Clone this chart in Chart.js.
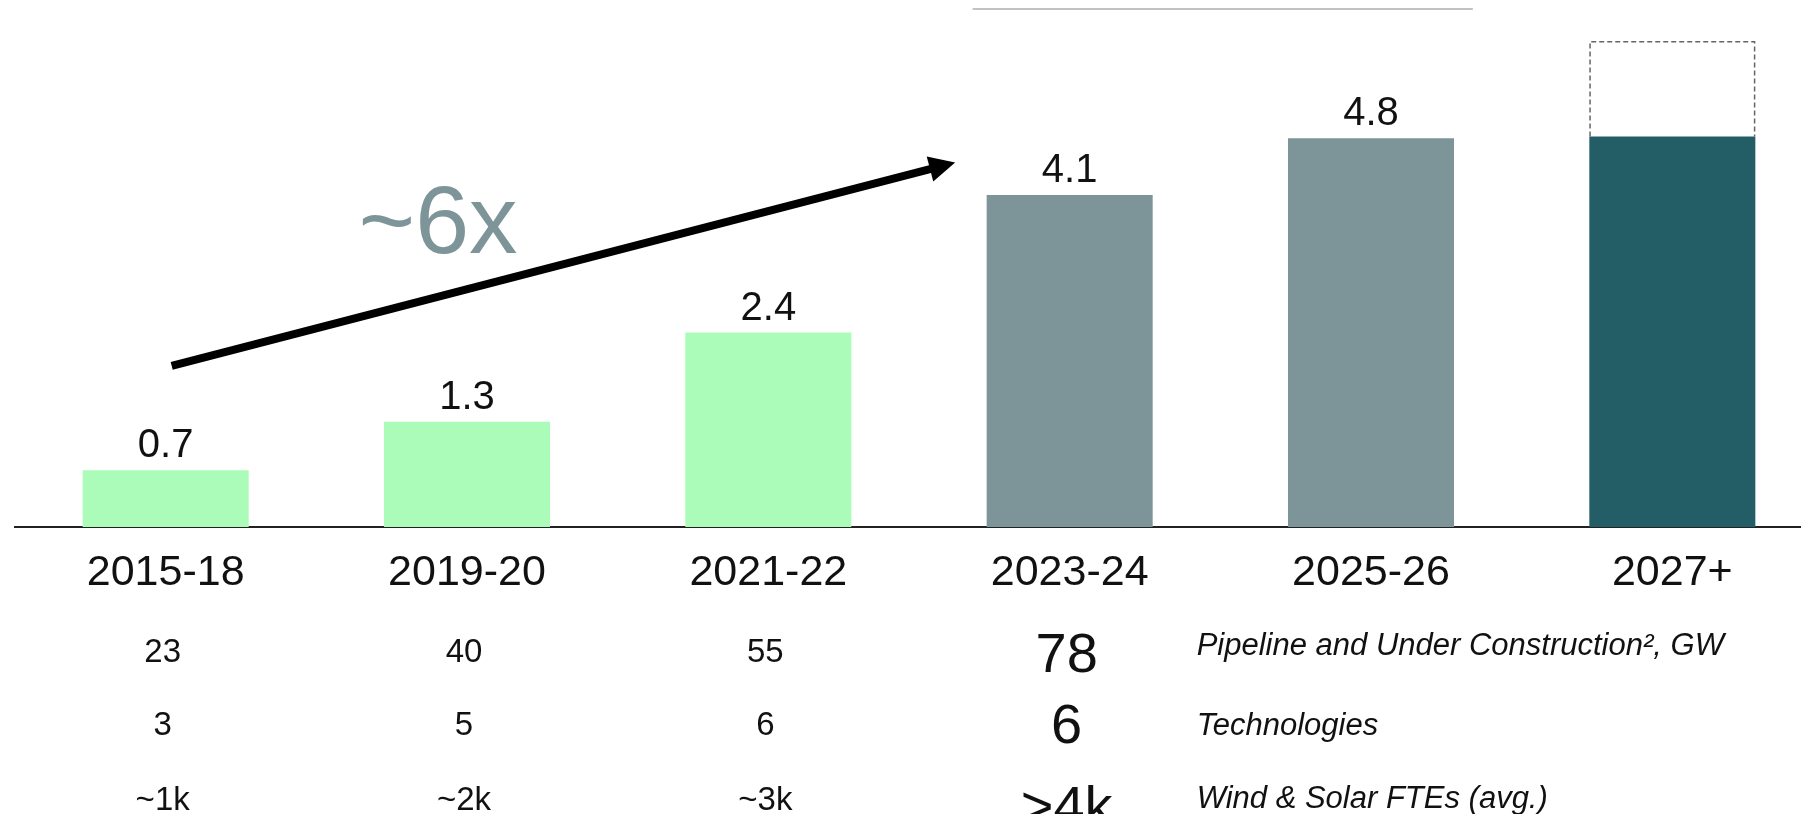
<!DOCTYPE html>
<html>
<head>
<meta charset="utf-8">
<script src="https://cdn.jsdelivr.net/npm/chart.js@4.4.1/dist/chart.umd.min.js"></script>
<style>
  html, body { margin: 0; padding: 0; background: #ffffff; overflow: hidden; }
  #wrap { width: 1830px; height: 814px; }
</style>
</head>
<body>
<div id="wrap"><canvas id="chart" width="1830" height="814"></canvas></div>
<script>
// Installed capacity per period (GW); the last period also carries an upside range
const periods = ['2015-18', '2019-20', '2021-22', '2023-24', '2025-26', '2027+'];
const capacityGW = [0.7, 1.3, 2.4, 4.1, 4.8, 4.82];
const showValue = [true, true, true, true, true, false];
const upsideRange = [null, null, null, null, null, [4.82, 6.0]];
const barColors = ['#aafcb8', '#aafcb8', '#aafcb8', '#7d9599', '#7d9599', '#235e66'];

// Supporting figures shown under the first four periods
const pipelineGW = ['23', '40', '55', '78'];
const technologies = ['3', '5', '6', '6'];
const fteCounts = ['~1k', '~2k', '~3k', '>4k'];
const rowTitles = ['Pipeline and Under Construction\u00B2, GW', 'Technologies', 'Wind & Solar FTEs (avg.)'];
const growthLabel = '~6x';

const FONT = '"Liberation Sans", Arial, Helvetica, sans-serif';
const INK = '#111111';

const overlay = {
  id: 'overlay',
  afterDatasetsDraw(chart) {
    const ctx = chart.ctx;
    const x = chart.scales.x;
    const y = chart.scales.y;
    const area = chart.chartArea;

    // value labels above bars
    const bars = chart.getDatasetMeta(0).data;
    ctx.save();
    ctx.fillStyle = INK;
    ctx.font = '40px ' + FONT;
    ctx.textAlign = 'center';
    ctx.textBaseline = 'alphabetic';
    bars.forEach((bar, i) => {
      if (!showValue[i]) return;
      ctx.fillText(capacityGW[i].toFixed(1), bar.x, bar.y - 13);
    });
    ctx.restore();

    // dashed outline for the upside range
    const upBars = chart.getDatasetMeta(1).data;
    ctx.save();
    ctx.strokeStyle = '#666666';
    ctx.lineWidth = 1.5;
    ctx.setLineDash([5, 3]);
    upBars.forEach((bar, i) => {
      if (!upsideRange[i]) return;
      const l = bar.x - bar.width / 2 + 0.75;
      const r = bar.x + bar.width / 2 - 0.75;
      const top = Math.min(bar.y, bar.base) + 0.75;
      const bot = Math.max(bar.y, bar.base);
      ctx.beginPath();
      ctx.moveTo(l, bot);
      ctx.lineTo(l, top);
      ctx.lineTo(r, top);
      ctx.lineTo(r, bot);
      ctx.stroke();
    });
    ctx.restore();

    // growth arrow
    const x0 = x.getPixelForValue(0.02), y0 = y.getPixelForValue(1.99);
    const x1 = x.getPixelForValue(2.62), y1 = y.getPixelForValue(4.5);
    const ang = Math.atan2(y1 - y0, x1 - x0);
    const headLen = 26, headHalf = 13;
    const bx = x1 - headLen * Math.cos(ang), by = y1 - headLen * Math.sin(ang);
    ctx.save();
    ctx.strokeStyle = '#000000';
    ctx.fillStyle = '#000000';
    ctx.lineWidth = 8;
    ctx.lineCap = 'butt';
    ctx.beginPath();
    ctx.moveTo(x0, y0);
    ctx.lineTo(bx + 2 * Math.cos(ang), by + 2 * Math.sin(ang));
    ctx.stroke();
    ctx.beginPath();
    ctx.moveTo(x1, y1);
    ctx.lineTo(bx - headHalf * Math.sin(ang), by + headHalf * Math.cos(ang));
    ctx.lineTo(bx + headHalf * Math.sin(ang), by - headHalf * Math.cos(ang));
    ctx.closePath();
    ctx.fill();
    ctx.restore();

    // growth multiple
    ctx.save();
    ctx.fillStyle = '#7d9599';
    ctx.font = '97px ' + FONT;
    ctx.textAlign = 'left';
    ctx.textBaseline = 'alphabetic';
    ctx.fillText(growthLabel, x.getPixelForValue(0.64), y.getPixelForValue(3.38));
    ctx.restore();

    // thin rule at the top
    ctx.save();
    ctx.strokeStyle = '#c2c2c2';
    ctx.lineWidth = 2;
    ctx.beginPath();
    ctx.moveTo(x.getPixelForValue(2.678), 9);
    ctx.lineTo(x.getPixelForValue(4.338), 9);
    ctx.stroke();
    ctx.restore();

    // supporting figures under the axis
    const rows = [pipelineGW, technologies, fteCounts];
    const smallBase = [135, 208, 283];
    const bigBase = [145, 216, 298];
    const titleBase = [128, 208, 281];
    ctx.save();
    ctx.fillStyle = INK;
    ctx.textAlign = 'center';
    ctx.textBaseline = 'alphabetic';
    rows.forEach((row, r) => {
      row.forEach((txt, i) => {
        const big = i === 3;
        ctx.font = (big ? '56px ' : '33px ') + FONT;
        ctx.fillText(txt, x.getPixelForValue(i) - 3, area.bottom + (big ? bigBase[r] : smallBase[r]));
      });
    });
    ctx.textAlign = 'left';
    ctx.font = 'italic 31px ' + FONT;
    rowTitles.forEach((t, r) => {
      ctx.fillText(t, x.getPixelForValue(3) + 127, area.bottom + titleBase[r]);
    });
    ctx.restore();
  }
};

new Chart(document.getElementById('chart'), {
  type: 'bar',
  data: {
    labels: periods,
    datasets: [
      {
        label: 'Capacity',
        data: capacityGW,
        backgroundColor: barColors,
        borderWidth: 0,
        barPercentage: 1,
        categoryPercentage: 0.551,
        grouped: false,
        order: 2
      },
      {
        label: 'Upside',
        data: upsideRange,
        backgroundColor: 'rgba(255,255,255,0)',
        borderWidth: 0,
        barPercentage: 1,
        categoryPercentage: 0.551,
        grouped: false,
        order: 1
      }
    ]
  },
  options: {
    responsive: false,
    animation: false,
    devicePixelRatio: 1,
    layout: { padding: { left: 15, right: 7, top: 41, bottom: 0 } },
    plugins: {
      legend: { display: false },
      tooltip: { enabled: false },
      title: { display: false }
    },
    scales: {
      x: {
        grid: { display: false, drawTicks: false },
        border: { display: true, color: '#222222', width: 2 },
        ticks: {
          color: INK,
          font: { family: FONT, size: 43 },
          padding: 20,
          autoSkip: false,
          maxRotation: 0,
          minRotation: 0
        },
        afterFit(scale) { scale.height = 287; }
      },
      y: {
        display: false,
        min: 0,
        max: 6.0
      }
    }
  },
  plugins: [overlay]
});
</script>
</body>
</html>
